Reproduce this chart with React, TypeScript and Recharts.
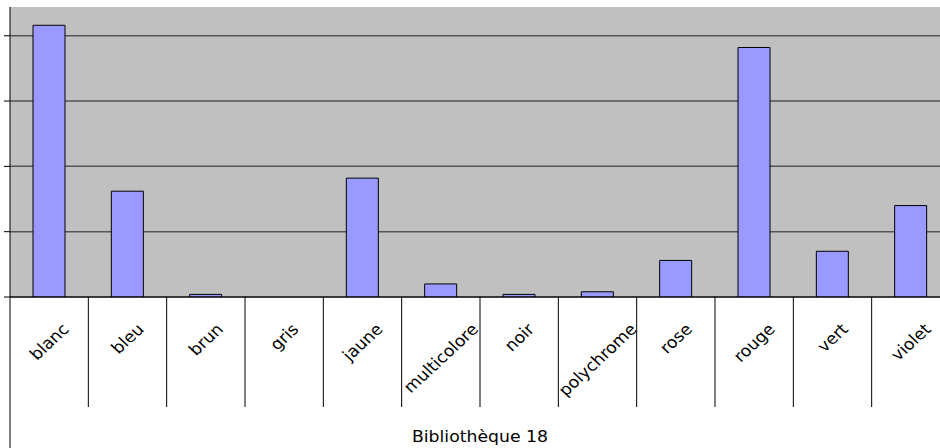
import { BarChart, Bar, XAxis, YAxis, CartesianGrid } from 'recharts';

const categories = ['blanc', 'bleu', 'brun', 'gris', 'jaune', 'multicolore', 'noir', 'polychrome', 'rose', 'rouge', 'vert', 'violet'];
const counts = [208, 81, 2, 0, 91, 10, 2, 4, 28, 191, 35, 70];
const yTicks = [0, 50, 100, 150, 200];
const title = 'Bibliothèque 18';

const data = categories.map((name, i) => ({ name, value: counts[i] }));

const CHART_W = 960;
const CHART_H = 448;
const Y_AXIS_W = 10;
const X_AXIS_H = 151;
const MARGIN = { top: 7, right: 10, bottom: 0, left: 0 };
const BAND = (CHART_W - MARGIN.left - MARGIN.right - Y_AXIS_W) / categories.length;
const FONT = '"DejaVu Sans", sans-serif';
const FONT_SIZE = 16;
// the original picture is a little wider than tall
const STRETCH = 1.08;

let ctx: CanvasRenderingContext2D | null = null;
function textWidth(s: string) {
   if (!ctx) ctx = document.createElement('canvas').getContext('2d');
   if (!ctx) return s.length * FONT_SIZE * 0.6;
   ctx.font = `${FONT_SIZE}px "DejaVu Sans"`;
   return ctx.measureText(s).width;
}

function CategoryTick(props: any) {
   const { x, y, payload, index } = props;
   const w = textWidth(payload.value);
   const boxH = (w + FONT_SIZE * 0.76) / Math.SQRT2;
   const cy = y + 25 + boxH / 2;
   return (
      <g>
         <line x1={x + BAND / 2} y1={y} x2={x + BAND / 2} y2={y + 110} stroke="#000" />
         {index === 0 && <line x1={x - BAND / 2} y1={y} x2={x - BAND / 2} y2={CHART_H} stroke="#000" />}
         <text
            transform={`translate(${x},${cy}) scale(${STRETCH},1) rotate(-45)`}
            textAnchor="middle"
            dy="0.35em"
            fontFamily={FONT}
            fontSize={FONT_SIZE}
            fill="#000"
         >
            {payload.value}
         </text>
      </g>
   );
}

// value labels sit off the left edge of the picture
const NoLabel = () => <g />;

function TitleLabel(props: any) {
   const vb = props.viewBox || { x: Y_AXIS_W, y: 297, width: CHART_W - Y_AXIS_W - MARGIN.right, height: X_AXIS_H };
   const cx = vb.x + vb.width / 2;
   const by = vb.y + 145;
   return (
      <text
         transform={`translate(${cx},${by}) scale(${STRETCH},1)`}
         textAnchor="middle"
         fontFamily={FONT}
         fontSize={FONT_SIZE}
         fill="#000"
      >
         {title}
      </text>
   );
}

export default function App() {
   return (
      <div style={{ position: 'absolute', left: 0, top: 0, width: 940, height: 448, overflow: 'hidden', background: '#fff' }}>
         <BarChart width={CHART_W} height={CHART_H} data={data} margin={MARGIN}>
            {/* gray plot area, no border */}
            <CartesianGrid horizontal={false} vertical={false} fill="#c0c0c0" stroke="none" />
            <CartesianGrid vertical={false} horizontalValues={yTicks} stroke="#555" strokeWidth={1.5} />
            <XAxis
               dataKey="name"
               height={X_AXIS_H}
               interval={0}
               tickLine={false}
               tickSize={0}
               tickMargin={0}
               stroke="#000"
               tick={<CategoryTick />}
               label={TitleLabel}
            />
            <YAxis
               width={Y_AXIS_W}
               domain={[0, 222]}
               ticks={yTicks}
               interval={0}
               tick={<NoLabel />}
               tickSize={6}
               stroke="#000"
               allowDataOverflow
            />
            <Bar dataKey="value" fill="#9999ff" stroke="#000" strokeWidth={1} barSize={32} isAnimationActive={false} />
         </BarChart>
      </div>
   );
}
